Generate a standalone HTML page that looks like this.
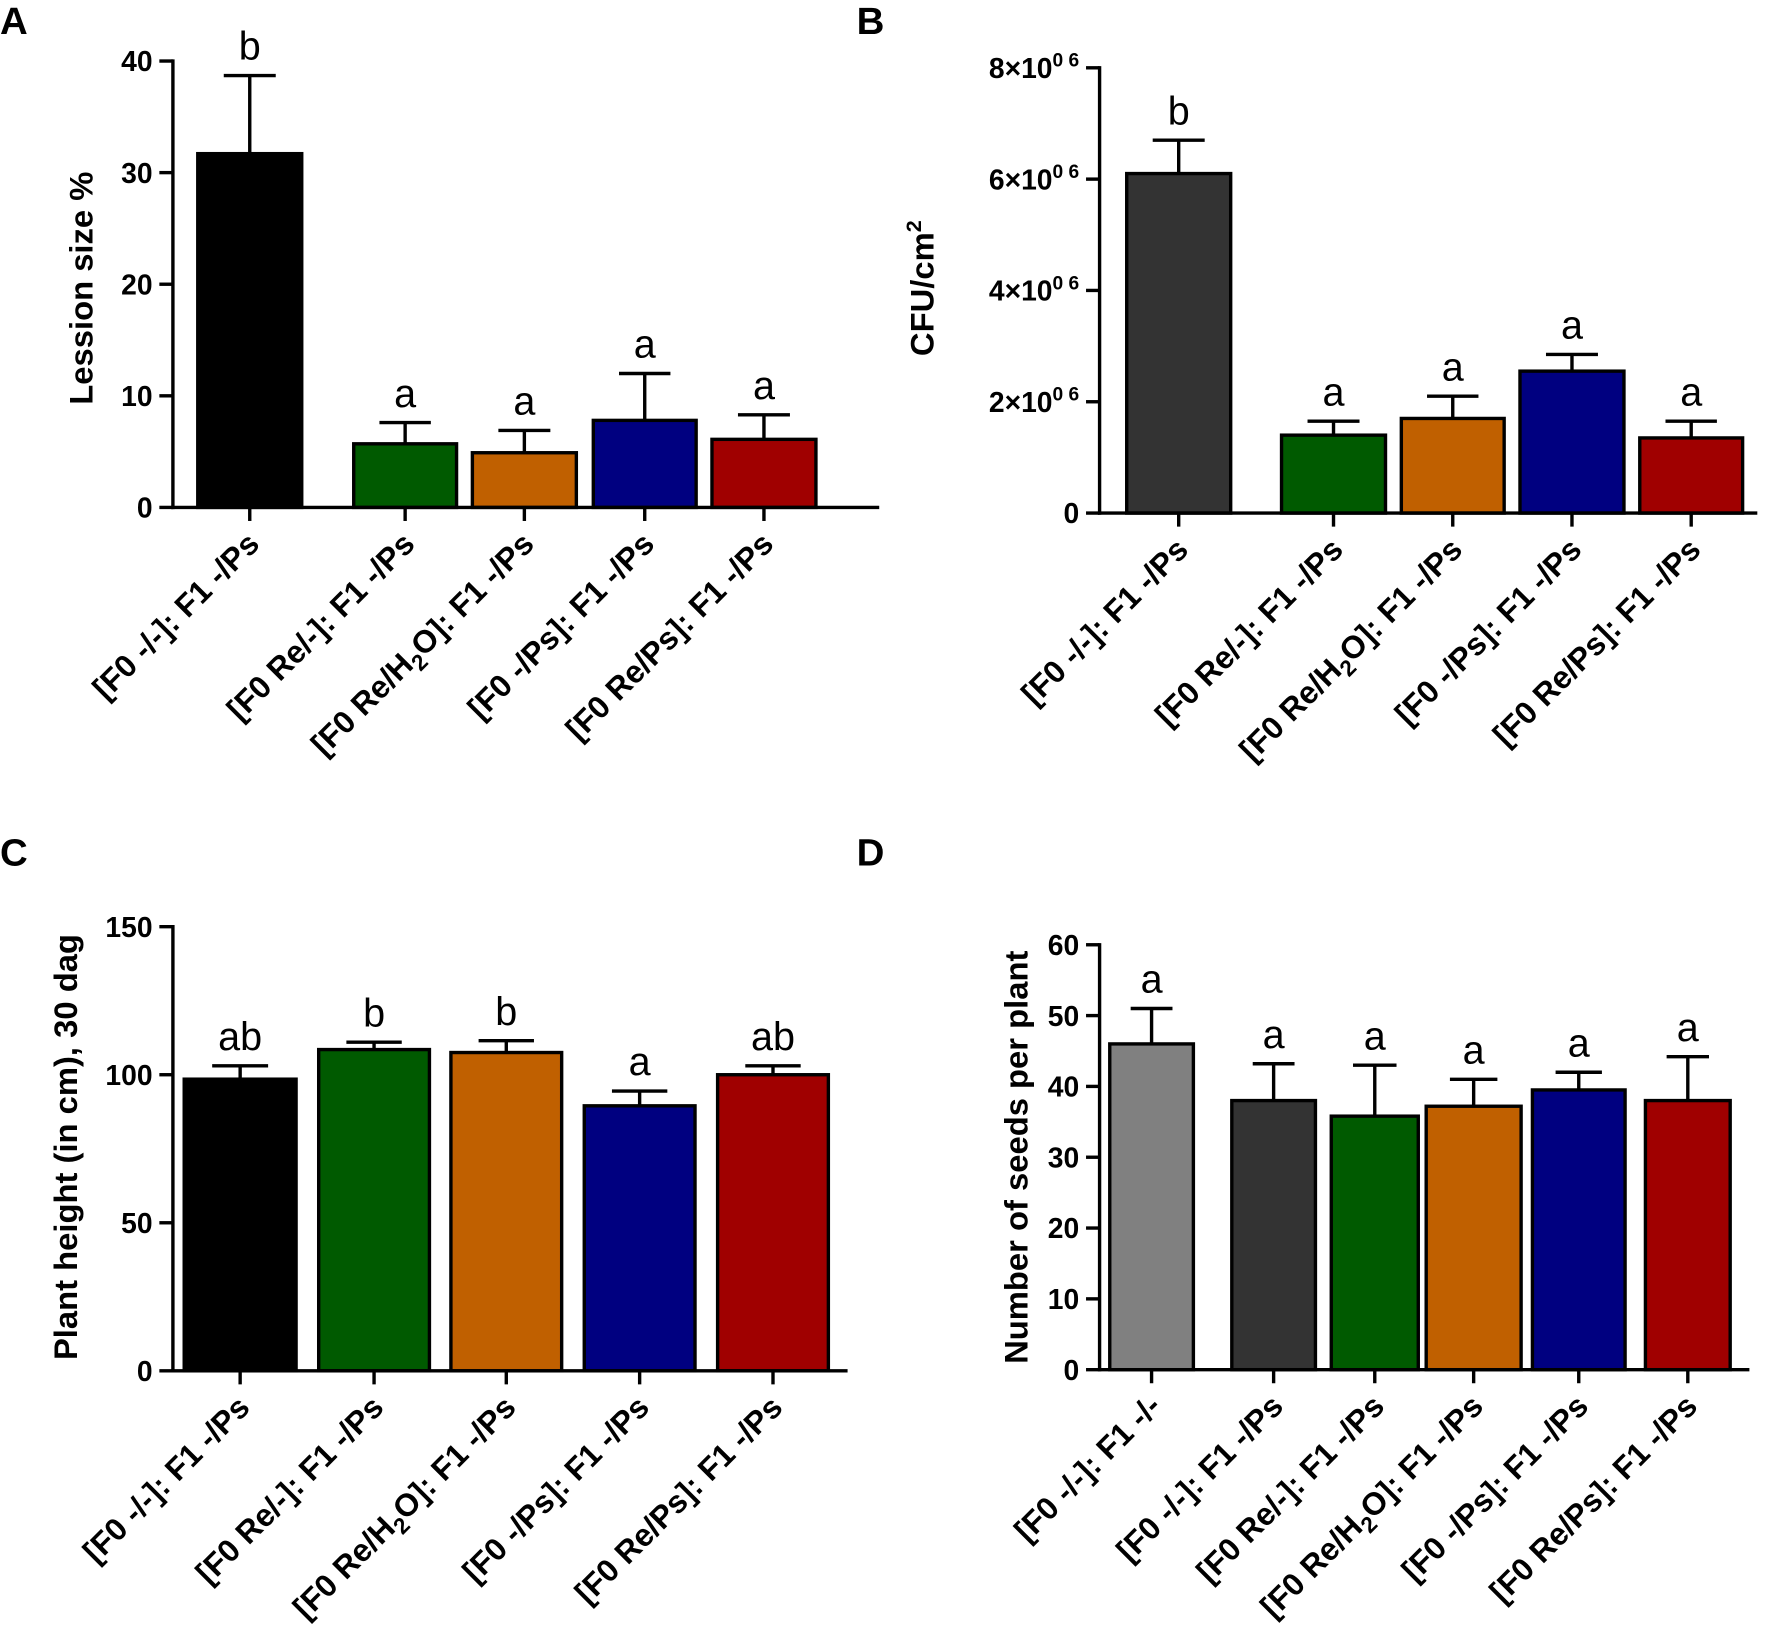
<!DOCTYPE html>
<html><head><meta charset="utf-8"><style>
html,body{margin:0;padding:0;background:#fff;width:1772px;height:1646px;overflow:hidden}
svg{display:block}
text{font-family:"Liberation Sans",Arial,sans-serif}
</style></head>
<body>
<svg id="fig" width="1772" height="1646" viewBox="0 0 1568 1456.5" xmlns="http://www.w3.org/2000/svg"></svg>
<script>
// ---- Panel A data ----
const catsA = ["[F0 -/-]: F1 -/Ps","[F0 Re/-]: F1 -/Ps","[F0 Re/H2O]: F1 -/Ps","[F0 -/Ps]: F1 -/Ps","[F0 Re/Ps]: F1 -/Ps"];
const valsA = [31.7, 5.7, 4.9, 7.8, 6.1];
const errA = [38.7, 7.6, 6.9, 12.0, 8.3];
const letA = ["b","a","a","a","a"];
const ticksA = [0,10,20,30,40];
// ---- Panel B data ----
const catsB = catsA;
const valsB = [6.1, 1.4, 1.7, 2.55, 1.35];
const errB = [6.7, 1.65, 2.1, 2.85, 1.65];
const letB = ["b","a","a","a","a"];
const ticksB = [0,2,4,6,8];
// ---- Panel C data ----
const catsC = catsA;
const valsC = [98.5, 108.5, 107.5, 89.5, 100];
const errC = [103, 111, 111.5, 94.5, 103];
const letC = ["ab","b","b","a","ab"];
const ticksC = [0,50,100,150];
// ---- Panel D data ----
const catsD = ["[F0 -/-]: F1 -/-","[F0 -/-]: F1 -/Ps","[F0 Re/-]: F1 -/Ps","[F0 Re/H2O]: F1 -/Ps","[F0 -/Ps]: F1 -/Ps","[F0 Re/Ps]: F1 -/Ps"];
const valsD = [46, 38, 35.8, 37.2, 39.5, 38];
const errD = [51, 43.2, 43, 41, 42, 44.2];
const letD = ["a","a","a","a","a","a"];
const ticksD = [0,10,20,30,40,50,60];

const NS="http://www.w3.org/2000/svg";
const svg=document.getElementById('fig');
function mk(tag,attrs,parent){const e=document.createElementNS(NS,tag);for(const k in attrs)e.setAttribute(k,attrs[k]);(parent||svg).appendChild(e);return e;}

function panel(cfg){
  const g=mk('g',{});
  
  
  const y=v=>cfg.y0-(v-cfg.min)/(cfg.max-cfg.min)*(cfg.y0-cfg.y1);
  const pl=mk('text',{x:cfg.lx,y:cfg.ly,'font-size':34,'font-weight':'bold'},g);
  pl.textContent=cfg.letter;
  
  
  cfg.vals.forEach((v,i)=>{
    const [xa,xb]=cfg.bx[i];
    const cx=(xa+xb)/2, w=xb-xa;
    const top=y(cfg.err[i]);
    const el=mk('line',{x1:cx,x2:cx,y1:y(v),y2:top,stroke:'#000','stroke-width':3},g);
    
    
    const cap=mk('line',{x1:cx-w/4,x2:cx+w/4,y1:top,y2:top,stroke:'#000','stroke-width':3},g);
    
    
    const r=mk('rect',{x:xa,y:y(v),width:w,height:cfg.y0-y(v),fill:cfg.colors[i],stroke:'#000','stroke-width':3},g);
    
    
    const lt=mk('text',{x:cx,y:top-14,'font-size':35,'text-anchor':'middle'},g);
    lt.textContent=cfg.lets[i];
    
    
    const tk=mk('line',{x1:cx,x2:cx,y1:cfg.y0,y2:cfg.y0+12,stroke:'#000','stroke-width':3},g);
    
    
    const tx=cx+10, ty=cfg.y0+34;
    const t=mk('text',{x:tx,y:ty,'font-size':28,'font-weight':'bold','text-anchor':'end',transform:`rotate(-45 ${tx} ${ty})`},g);
    
    
    const c=cfg.cats[i];
    if(c.includes('H2O')){
      const [a,b]=c.split('H2O');
      t.appendChild(document.createTextNode(a+'H'));
      const s=mk('tspan',{'font-size':20,dy:7},t); s.textContent='2';
      const s2=mk('tspan',{dy:-7},t); s2.textContent='O'+b;
    } else t.textContent=c;
  });
  const ya=mk('line',{x1:cfg.ax,x2:cfg.ax,y1:cfg.y1-1.5,y2:cfg.y0+1.5,stroke:'#000','stroke-width':3},g);
  
  
  const xa=mk('line',{x1:cfg.ax-1.5,x2:cfg.xend,y1:cfg.y0,y2:cfg.y0,stroke:'#000','stroke-width':3},g);
  
  
  cfg.ticks.forEach(tv=>{
    const yy=y(tv);
    const tk=mk('line',{x1:cfg.ax-12,x2:cfg.ax,y1:yy,y2:yy,stroke:'#000','stroke-width':3},g);
    
    
    const t=mk('text',{x:cfg.ax-18,y:yy+9,'font-size':25,'font-weight':'bold','text-anchor':'end'},g);
    
    
    if(cfg.sci && tv!==0){
      t.appendChild(document.createTextNode(tv+'×10'));
      const s=mk('tspan',{'font-size':17,dy:-10},t); s.textContent='0 6';
    } else t.textContent=tv;
  });
  const tt=mk('text',{x:cfg.tx,y:cfg.ty,'font-size':29,'font-weight':'bold','text-anchor':'middle',transform:`rotate(-90 ${cfg.tx} ${cfg.ty})`},g);
  
  
  if(cfg.title==='CFU'){
    tt.appendChild(document.createTextNode('CFU/cm'));
    const s=mk('tspan',{'font-size':19,dy:-11},tt); s.textContent='2';
  } else tt.textContent=cfg.title;
}
const C5=['#000000','#005a00','#c06000','#000080','#a00000'];
panel({name:'panel-a',letter:'A',lx:0,ly:30,cats:catsA,vals:valsA,err:errA,lets:letA,ticks:ticksA,min:0,max:40,y0:449,y1:54,ax:153,xend:778,
  bx:[[175,267],[313,404],[418,510],[525,616],[630,722]],colors:C5,title:'Lession size %',tx:82,ty:255});
panel({name:'panel-b',letter:'B',lx:758,ly:30,cats:catsB,vals:valsB,err:errB,lets:letB,ticks:ticksB,min:0,max:8,y0:454,y1:60,ax:973,xend:1555,sci:true,
  bx:[[997,1089],[1134,1226],[1240,1331],[1345,1437],[1451,1542]],colors:['#333333','#005a00','#c06000','#000080','#a00000'],title:'CFU',tx:826,ty:255});
panel({name:'panel-c',letter:'C',lx:0,ly:766,cats:catsC,vals:valsC,err:errC,lets:letC,ticks:ticksC,min:0,max:150,y0:1213,y1:820,ax:153,xend:750,
  bx:[[163,262],[282,380],[399,497],[517,615],[635,733]],colors:C5,title:'Plant height (in cm), 30 dag',tx:68,ty:1015});
panel({name:'panel-d',letter:'D',lx:758,ly:766,cats:catsD,vals:valsD,err:errD,lets:letD,ticks:ticksD,min:0,max:60,y0:1212,y1:836,ax:973,xend:1548,
  bx:[[982,1056],[1090,1164],[1178,1255],[1262,1346],[1356,1438],[1456,1531]],colors:['#808080','#333333','#005a00','#c06000','#000080','#a00000'],title:'Number of seeds per plant',tx:909,ty:1024});
</script>
</body></html>
